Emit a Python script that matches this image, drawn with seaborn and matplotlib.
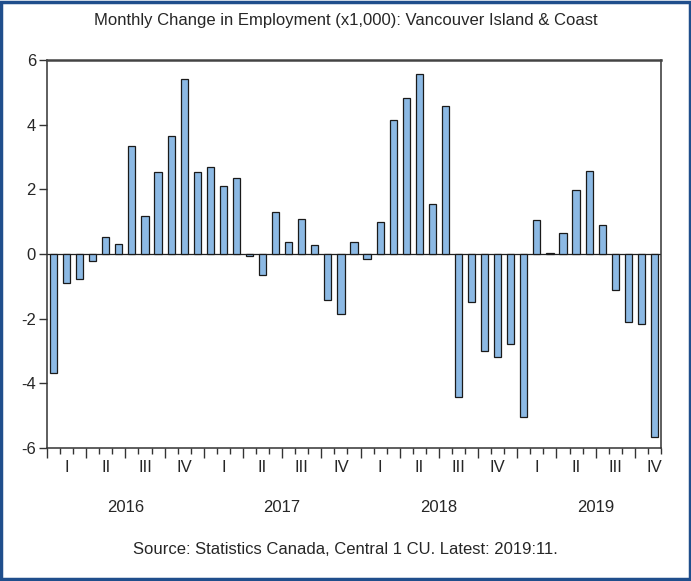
import matplotlib
matplotlib.use("Agg")
import matplotlib.pyplot as plt
import matplotlib.patches as mpatches
import matplotlib.transforms as mtransforms
import seaborn as sns
import pandas as pd

# ---- data ----
months = [f"{y}:{m:02d}" for y in (2016, 2017, 2018, 2019) for m in range(1, 13)][:47]
values = [-3.68, -0.90, -0.78, -0.21, 0.52, 0.31, 3.34, 1.16, 2.53, 3.65, 5.40, 2.53,
          2.69, 2.09, 2.35, -0.06, -0.64, 1.30, 0.38, 1.08, 0.29, -1.41, -1.85, 0.38,
          -0.16, 0.99, 4.13, 4.83, 5.57, 1.53, 4.58, -4.41, -1.49, -3.00, -3.19, -2.78,
          -5.03, 1.04, 0.02, 0.64, 1.99, 2.56, 0.89, -1.11, -2.11, -2.17, -5.67]
quarter_labels = ["I", "II", "III", "IV"]
years = ["2016", "2017", "2018", "2019"]
title = "Monthly Change in Employment (x1,000): Vancouver Island & Coast"
source = "Source: Statistics Canada, Central 1 CU. Latest: 2019:11."

df = pd.DataFrame({"month": months, "value": values})

sns.set_theme(style="white")
plt.rcParams["font.family"] = ["Liberation Sans", "DejaVu Sans"]

FS = 12

fig = plt.figure(figsize=(6.91, 5.81), dpi=100)
ax = fig.add_axes([0.068, 0.229, 0.8886, 0.6678])

sns.barplot(data=df, x="month", y="value", order=months, color="#8CB9E4",
            saturation=1, width=0.55, edgecolor="#1a1a1a", linewidth=0.9, ax=ax)

n = len(months)
ax.set_xlim(-0.5, n - 0.5)
ax.set_ylim(-6, 6)
ax.axhline(0, color="#222222", linewidth=0.9, zorder=0.5)

ax.set_xlabel("")
ax.set_ylabel("")
ax.set_yticks([-6, -4, -2, 0, 2, 4, 6])
ax.set_yticklabels(["-6", "-4", "-2", "0", "2", "4", "6"], fontsize=FS)
ax.tick_params(axis="y", direction="out", length=6, width=1, color="#333333", pad=2, left=True)

# month ticks (minor) and quarter ticks (major) at boundaries
ax.set_xticks([-0.5 + 3 * k for k in range(n // 3 + 1)])
ax.set_xticklabels([])
ax.set_xticks([-0.5 + k for k in range(n + 1)], minor=True)
ax.tick_params(axis="x", which="major", direction="out", length=7, width=1, color="#333333", bottom=True)
ax.tick_params(axis="x", which="minor", direction="out", length=4, width=1, color="#333333", bottom=True)

for s in ax.spines.values():
    s.set_visible(True)
    s.set_color("#333333")
    s.set_linewidth(1.1)
ax.spines["top"].set_linewidth(1.8)
ax.spines["top"].set_color("#444444")

trans = mtransforms.blended_transform_factory(ax.transData, fig.transFigure)
for q in range((n + 2) // 3):
    center = 3 * q + 1
    if center > n - 1:
        center = n - 1
    ax.text(center, 1 - 467 / 581, quarter_labels[q % 4], transform=trans,
            ha="center", va="center", fontsize=FS)
for i, yr in enumerate(years):
    center = 12 * i + 5.5
    ax.text(center, 1 - 507 / 581, yr, transform=trans,
            ha="center", va="center", fontsize=FS)

fig.text(0.5, 1 - 20 / 581, title, ha="center", va="center", fontsize=FS)
fig.text(0.5, 1 - 550 / 581, source, ha="center", va="center", fontsize=FS)

fig.patches.append(mpatches.Rectangle((0.002, 0.003), 0.996, 0.994, transform=fig.transFigure,
                                      fill=False, edgecolor="#1F4E8C", linewidth=2.5))

fig.savefig("out.png", dpi=100)
